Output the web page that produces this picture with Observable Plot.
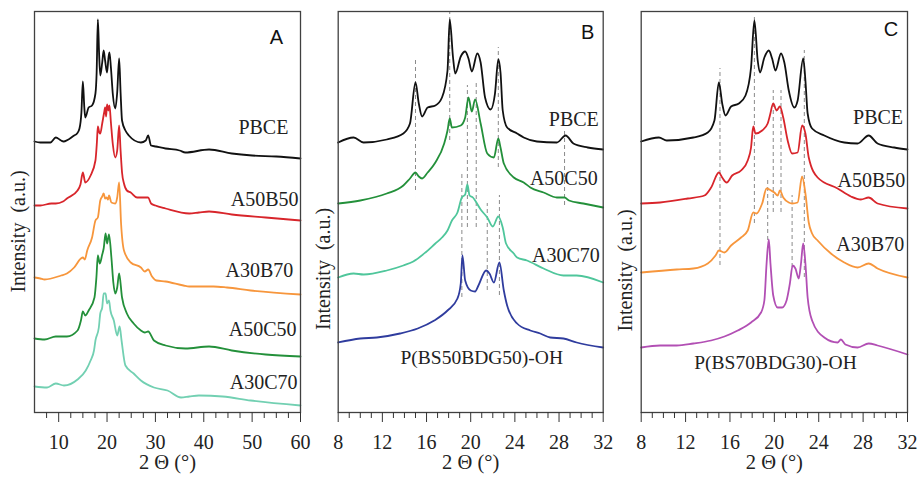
<!DOCTYPE html>
<html>
<head>
<meta charset="utf-8">
<script src="https://cdn.jsdelivr.net/npm/d3@7"></script>
<script src="https://cdn.jsdelivr.net/npm/@observablehq/plot@0.6"></script>
<style>
  html, body { margin: 0; padding: 0; background: #fff; }
  #wrap { position: relative; width: 919px; height: 477px; overflow: hidden; background: #fff; }
  #wrap > svg { position: absolute; top: 0; }
  #wrap svg text { font-family: "Liberation Serif", "Times New Roman", serif; }
</style>
</head>
<body>
<div id="wrap"></div>
<script>
// ---------------- DATA (2θ in degrees, intensity in a.u. incl. vertical stacking) ----------------
// Panel A
const A_PBCE = [[5,271],[6.2,270],[8.3,270],[9.4,275],[10.5,272],[11,271],[13.2,277],[13.8,279],[14.3,284],[14.7,300],[15.0,331],[15.3,305],[15.5,295],[16.2,305],[16.9,307],[17.6,319],[17.85,340],[18.1,393],[18.35,360],[18.6,337],[19.0,350],[19.3,362],[19.6,352],[20.0,340],[20.3,355],[20.5,360],[20.8,345],[21.2,318],[21.7,304],[22.1,320],[22.5,354],[22.8,320],[23.1,292],[23.8,282],[24.5,277],[27.0,270],[28.0,272],[28.5,277],[29.1,267],[30.1,266],[32.1,264],[35,262],[36.2,260],[41.1,263],[45.8,259],[50,257],[55,256],[60,254]];
const A_A50B50 = [[5,207],[6.2,207],[8.5,209],[9.4,209],[10.9,211],[11.7,214],[13.9,222],[14.5,228],[15.0,240],[15.5,230],[16.6,237],[17.6,252],[17.9,270],[18.1,286],[18.4,280],[18.6,279],[19.0,289],[19.4,300],[19.6,305],[19.8,296],[20.0,308],[20.3,302],[20.5,307],[20.8,290],[21.2,268],[21.7,255],[22.1,262],[22.5,287],[22.8,262],[23.1,240],[23.5,229],[24.1,222],[24.9,220],[26.2,215],[27.0,215],[28.5,215],[29.1,209],[30,207],[32.1,204],[37,199],[39,200],[41.1,201],[45.8,198],[52.8,195],[60,192]];
const A_A30B70 = [[5,135],[6.2,134],[7.1,133],[10.5,137],[11.7,139],[13.2,145],[14.6,154],[15.0,155],[15.4,153],[15.9,162],[16.9,175],[17.6,192],[18.1,195],[18.6,212],[19.0,216],[19.3,219],[19.6,214],[19.9,215],[20.2,213],[20.4,217],[20.9,210],[21.7,209],[22.1,215],[22.5,230],[22.9,189],[23.5,162],[24.9,150],[27.0,145],[27.8,141],[28.5,143],[29.3,136],[30.2,132],[32.1,131],[35.8,127],[37,126],[42,126],[44.8,125],[49.7,122],[60,118]];
const A_A50C50 = [[5,74],[7.1,73],[9.4,76],[11.7,76],[13.9,82],[14.6,92],[15.0,101],[15.5,97],[16.2,102],[17.4,115],[17.8,135],[18.1,157],[18.5,149],[19.0,158],[19.3,164],[19.7,179],[20.0,169],[20.4,178],[20.9,155],[21.3,130],[21.7,119],[22.1,125],[22.5,139],[23.1,115],[24.1,99],[25.5,89],[27.0,82],[27.8,80],[28.5,81],[29.7,72],[32.1,67],[36.2,64],[41.1,66],[45.8,62],[52.8,58],[60,56]];
const A_A30C70 = [[5,26],[7.6,25],[9.4,29],[11.1,27],[13.9,33],[15.6,42],[16.6,52],[17.3,62],[17.6,72],[18.3,85],[18.6,99],[19.0,105],[19.3,119],[19.7,119],[20.0,109],[20.4,112],[20.7,102],[21.4,92],[22.1,77],[22.6,86],[23.0,72],[23.8,47],[25.5,39],[27.0,32],[29.7,25],[32.5,22],[35.3,15],[37,16],[39,17],[43.9,16],[49.7,12],[60,7]];
// Panel B
const B_PBCE = [[8,270],[9.4,275],[10.3,270],[12.4,273],[13.9,279],[14.5,289],[15.0,330],[15.3,309],[15.6,296],[16.1,305],[16.8,307],[17.4,315],[17.9,342],[18.1,393],[18.4,355],[18.6,339],[19.1,356],[19.5,361],[19.8,354],[20.1,341],[20.6,359],[20.9,350],[21.3,315],[21.8,303],[22.2,319],[22.5,353],[22.7,340],[22.9,302],[23.3,285],[24.2,279],[24.8,275],[26.0,271],[27.8,270],[28.6,277],[29.3,269],[30.6,265],[32,263]];
const B_A50C50 = [[8,209],[10,212],[12.4,219],[13.9,227],[14.5,234],[15.0,240],[15.3,236],[15.6,234],[16.1,240],[16.8,250],[17.6,269],[17.9,282],[18.1,294],[18.3,285],[19.1,287],[19.5,295],[19.8,315],[20.1,301],[20.4,313],[20.9,289],[21.5,259],[22.1,255],[22.5,274],[22.7,265],[23.0,249],[23.9,235],[24.8,230],[25.4,225],[26.6,220],[27.8,215],[28.5,215],[28.9,212],[30.2,209],[32,205]];
const B_A30C70 = [[8,135],[9.4,139],[10.3,138],[12.4,142],[13.9,147],[14.8,151],[15.9,160],[16.8,169],[17.4,175],[17.9,182],[18.3,192],[18.8,200],[19.2,215],[19.5,218],[19.7,228],[19.9,217],[20.2,215],[20.4,212],[20.9,203],[21.5,195],[22.0,186],[22.5,196],[22.9,185],[23.2,169],[23.9,159],[24.2,155],[25.1,152],[26.6,144],[28.4,137],[29.6,137],[32,130]];
const B_BS50 = [[8,70],[10,74],[11.5,75],[13.6,79],[15.2,84],[16.7,92],[17.9,102],[18.8,114],[19.1,129],[19.25,157],[19.5,132],[20.0,122],[20.4,121],[20.7,127],[21.4,142],[21.7,139],[22.1,130],[22.6,150],[23.0,122],[23.3,107],[24.2,89],[25.4,82],[26.3,79],[27.2,75],[28.4,74],[29.6,70],[32,65]];
// Panel C
const C_PBCE = [[8,271],[9.6,275],[10.3,272],[12.7,275],[14.0,280],[14.6,292],[15.0,330],[15.3,309],[15.6,297],[16.1,306],[16.8,309],[17.4,317],[17.9,345],[18.2,392],[18.5,352],[18.7,340],[19.1,355],[19.5,362],[19.8,354],[20.1,342],[20.6,359],[20.9,350],[21.3,322],[21.8,305],[22.1,312],[22.6,354],[22.8,332],[23.0,299],[23.4,284],[24.5,277],[26.3,270],[27.5,269],[28.5,277],[29.3,269],[30.8,265],[32,263]];
const C_A50B50 = [[8,209],[9.7,210],[12.2,214],[13.7,217],[14.3,225],[15.0,240],[15.3,235],[15.7,230],[16.2,237],[17.0,242],[17.6,252],[17.9,265],[18.1,286],[18.3,279],[18.9,282],[19.4,289],[19.6,297],[19.9,309],[20.2,302],[20.5,306],[20.8,295],[21.2,272],[21.6,259],[22.1,260],[22.5,287],[22.8,279],[23.1,255],[23.9,235],[25.7,224],[26.9,216],[27.8,213],[28.5,215],[29.3,209],[32,204]];
const C_A30B70 = [[8,140],[11.2,143],[12.7,144],[14.0,149],[14.7,157],[15.0,162],[15.5,160],[16.1,167],[17.0,175],[17.6,182],[18.1,200],[18.4,199],[18.9,209],[19.3,224],[19.7,222],[20.0,220],[20.3,217],[20.5,222],[20.8,215],[21.3,210],[21.6,209],[22.1,210],[22.5,236],[22.8,219],[23.1,190],[23.4,179],[23.9,172],[25.1,159],[26.3,150],[27.5,145],[28.5,149],[29.3,144],[32,135]];
const C_BS70 = [[8,65],[9.7,67],[11.2,67],[12.7,69],[14.3,72],[15.5,76],[16.7,82],[17.9,90],[18.8,100],[19.1,112],[19.3,149],[19.5,173],[19.65,149],[19.9,117],[20.3,105],[20.7,105],[21.1,112],[21.4,129],[21.65,147],[21.9,144],[22.2,134],[22.4,149],[22.6,169],[22.8,149],[23.0,115],[23.4,92],[24.5,75],[25.7,70],[26.0,73],[26.4,68],[27.5,65],[28.5,69],[29.3,67],[32,58]];

// Dashed reference lines: [2θ, low intensity, high intensity]
const B_refLines = [[15.0,222,354],[18.1,272,400],[19.7,185,327],[20.5,185,330],[22.5,245,365],[22.6,117,217],[28.5,207,282],[19.2,115,239],[21.5,122,209]];
const C_refLines = [[15.1,147,344],[18.2,189,395],[19.9,200,322],[20.6,200,322],[19.4,172,235],[21.6,145,217],[22.7,135,362]];

// Tick values
const A_major = [10,20,30,40,50,60];
const A_minor = [7.5,12.5,15,17.5,22.5,25,27.5,32.5,35,37.5,42.5,45,47.5,52.5,55,57.5];
const BC_major = [8,12,16,20,24,28,32];
const BC_minor = [9,10,11,13,14,15,17,18,19,21,22,23,25,26,27,29,30,31];

// Curve labels: [text, 2θ, intensity]  (right-aligned ones, then centred ones)
const A_labels = [["PBCE",57.5,285],["A50B50",59.6,213],["A30B70",58.5,142],["A50C50",59.2,83],["A30C70",59.4,30]];
const B_labels = [["PBCE",31.6,293],["A50C50",31.5,234],["A30C70",31.7,157]];
const B_center = [["P(BS50BDG50)-OH",21.0,55]];
const C_labels = [["PBCE",31.6,295],["A50B50",31.8,232],["A30B70",31.7,168]];
const C_center = [["P(BS70BDG30)-OH",20.1,50]];
const panelLetters = ["A", "B", "C"];

const colors = {
  black: "#111111", red: "#d8252b", orange: "#f7963c", green: "#23903a",
  tealA: "#72d0b2", tealB: "#4fc69b", blue: "#2f3c9e", magenta: "#b24fb4"
};

// ---------------- DRAWING ----------------
const SERIF = "Liberation Serif, Times New Roman, serif";
const SANS = "Liberation Sans, Arial, sans-serif";

function panel(cfg) {
  const txt = {fontFamily: SERIF, fill: "#222"};
  const marks = [
    Plot.ruleX(cfg.refLines || [], {x: d => d[0], y1: d => d[1], y2: d => d[2], stroke: "#8a8a8a", strokeWidth: 1, strokeDasharray: "4,3"}),
    ...cfg.series.map(s => Plot.line(s.data, {x: d => d[0], y: d => d[1], stroke: s.color, strokeWidth: 1.8, curve: "monotone-x"})),
    Plot.frame({stroke: "#404040", strokeWidth: 1.3}),
    Plot.axisX({ticks: cfg.major, tickSize: 10, tickPadding: 12, label: null, fontSize: 20, fontFamily: SERIF, stroke: "#333", fill: "#222"}),
    Plot.axisX({ticks: cfg.minor, tickSize: 6, tickFormat: () => "", label: null, stroke: "#333"}),
    Plot.text(cfg.labels, {x: d => d[1], y: d => d[2], text: d => d[0], textAnchor: "end", fontSize: 20, ...txt}),
    Plot.text(cfg.center || [], {x: d => d[1], y: d => d[2], text: d => d[0], textAnchor: "middle", fontSize: 19.5, ...txt}),
    Plot.text([cfg.letter], {x: cfg.letterPos[0], y: cfg.letterPos[1], text: d => d, fontFamily: SANS, fontSize: 20, fill: "#111"}),
    Plot.text(["2 \u0398 (\u00b0)"], {frameAnchor: "bottom", text: d => d, dy: 56, textAnchor: "middle", fontSize: 20.5, ...txt}),
    Plot.text(["Intensity\u00a0 (a.u.)"], {frameAnchor: "left", text: d => d, rotate: -90, textAnchor: "middle", dx: cfg.ylab[0], dy: cfg.ylab[1], fontSize: 20, ...txt})
  ];
  const svg = Plot.plot({
    width: cfg.width, height: 477,
    marginTop: 11, marginBottom: 65, marginLeft: cfg.ml, marginRight: cfg.mr,
    x: {domain: cfg.domain},
    y: {domain: [0, 401], axis: null},
    style: {background: "transparent", fontSize: "20px", color: "#333", overflow: "visible"},
    marks
  });
  svg.setAttribute("font-family", SERIF);
  svg.querySelectorAll("text").forEach(t => {
    if (panelLetters.includes(t.textContent)) t.style.fontFamily = "'Liberation Sans', Arial, sans-serif";
  });
  svg.style.left = cfg.left + "px";
  document.getElementById("wrap").appendChild(svg);
}

panel({
  left: 0, width: 310, ml: 34, mr: 10, domain: [5, 60],
  major: A_major, minor: A_minor,
  series: [
    {data: A_PBCE, color: colors.black}, {data: A_A50B50, color: colors.red},
    {data: A_A30B70, color: colors.orange}, {data: A_A50C50, color: colors.green},
    {data: A_A30C70, color: colors.tealA}
  ],
  labels: A_labels, letter: panelLetters[0], letterPos: [55.0, 375], ylab: [-15.7, 19.5]
});
panel({
  left: 310, width: 304, ml: 27.7, mr: 11.3, domain: [8, 32],
  major: BC_major, minor: BC_minor, refLines: B_refLines,
  series: [
    {data: B_PBCE, color: colors.black}, {data: B_A50C50, color: colors.green},
    {data: B_A30C70, color: colors.tealB}, {data: B_BS50, color: colors.blue}
  ],
  labels: B_labels, center: B_center, letter: panelLetters[1], letterPos: [30.6, 380], ylab: [-14.2, 57]
});
panel({
  left: 614, width: 305, ml: 26.7, mr: 12, domain: [8, 32],
  major: BC_major, minor: BC_minor, refLines: C_refLines,
  series: [
    {data: C_PBCE, color: colors.black}, {data: C_A50B50, color: colors.red},
    {data: C_A30B70, color: colors.orange}, {data: C_BS70, color: colors.magenta}
  ],
  labels: C_labels, center: C_center, letter: panelLetters[2], letterPos: [30.5, 383], ylab: [-15.7, 58.5]
});
</script>
</body>
</html>
